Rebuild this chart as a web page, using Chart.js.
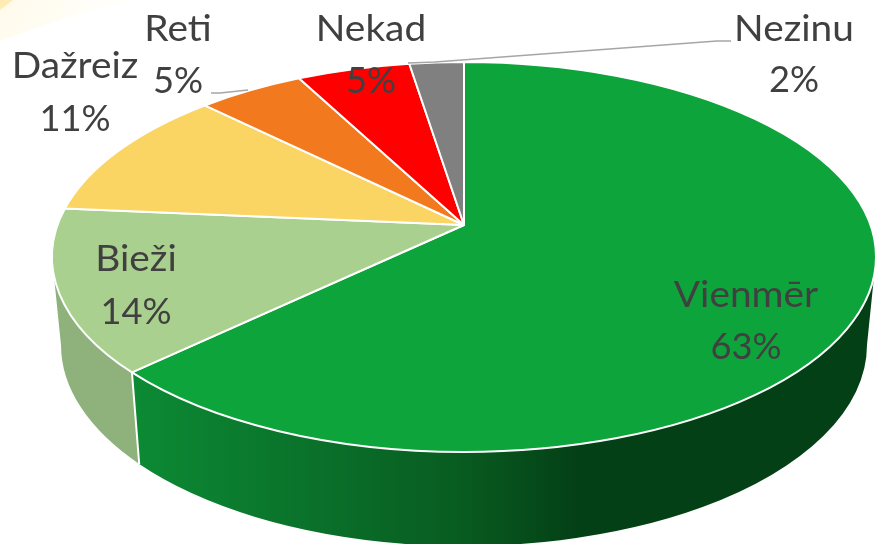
<!DOCTYPE html>
<html lang="lv">

<head>
  <meta charset="UTF-8">
  <title>Cik bieži</title>
  <style>
    html, body { margin: 0; padding: 0; background: #fff; }
    canvas { display: block; }
  </style>
</head>

<body>
  <canvas id="myChart" width="876" height="544"></canvas>

  <script src="https://cdn.jsdelivr.net/npm/chart.js"></script>
  <script>
    const categorias = ['Vienmēr', 'Bieži', 'Dažreiz', 'Reti', 'Nekad', 'Nezinu'];
    const valores = [62.9, 13.5, 11, 4.9, 5.2, 2.5];
    const rotulosPct = ['63%', '14%', '11%', '5%', '5%', '2%'];
    const cores = ['#0EA43C', '#A9D08E', '#FBD564', '#F2791E', '#FF0000', '#808080'];

    // where each label sits: centre x, baseline of name, baseline of percent
    const posRotulos = [
      [746, 307, 359],
      [136, 271, 324],
      [75, 78, 131],
      [178, 41, 93],
      [371, 41, 93],
      [794, 41, 92]
    ];

    // the pie lies flat, seen in perspective: top rim and bottom rim ellipses
    const vertice = { x: 464, y: 225 };
    const topo = { x: 464, y: 257, rx: 412, ry: 195 };
    const base = { x: 464, y: 345, rx: 403, ry: 201 };
    const persp = 64 / 390;
    const escalaY = 189.75;
    const escalaX = 406.4;

    function projetar(angulo) {
      const u = Math.cos(angulo);
      const v = Math.sin(angulo);
      const d = 1 - persp * v;
      return { x: vertice.x + escalaX * u / d, y: vertice.y + escalaY * v / d };
    }

    function paramElipse(p) {
      return Math.atan2((p.y - topo.y) / topo.ry, (p.x - topo.x) / topo.rx);
    }

    function paredeDe(ctx, t1, t2) {
      ctx.beginPath();
      ctx.ellipse(topo.x, topo.y, topo.rx, topo.ry, 0, t1, t2);
      ctx.ellipse(base.x, base.y, base.rx, base.ry, 0, t2, t1, true);
      ctx.closePath();
    }

    const fundo = {
      id: 'fundo',
      beforeDraw(chart) {
        const ctx = chart.ctx;
        ctx.save();
        ctx.fillStyle = '#fff';
        ctx.fillRect(0, 0, chart.width, chart.height);
        const grad = ctx.createLinearGradient(0, 0, 60, 50);
        grad.addColorStop(0, '#FFFAEA');
        grad.addColorStop(1, '#FFFEF9');
        ctx.fillStyle = grad;
        ctx.beginPath();
        ctx.moveTo(0, 0);
        ctx.lineTo(130, 0);
        ctx.quadraticCurveTo(60, 18, 0, 41);
        ctx.closePath();
        ctx.fill();
        ctx.fillStyle = '#FFECB4';
        ctx.beginPath();
        ctx.moveTo(0, 0);
        ctx.lineTo(13, 0);
        ctx.lineTo(0, 10);
        ctx.closePath();
        ctx.fill();
        ctx.restore();
      }
    };

    const pizza3d = {
      id: 'pizza3d',
      beforeDatasetsDraw(chart) {
        const ctx = chart.ctx;
        const arcos = chart.getDatasetMeta(0).data;
        const separa = paramElipse(projetar(arcos[0].endAngle));

        ctx.save();

        // side wall, only the front half shows
        const gradVerde = ctx.createLinearGradient(133, 0, 600, 0);
        gradVerde.addColorStop(0, '#0C8A34');
        gradVerde.addColorStop(0.4, '#0A702A');
        gradVerde.addColorStop(0.7, '#085C20');
        gradVerde.addColorStop(0.95, '#044016');
        gradVerde.addColorStop(1, '#044016');
        ctx.fillStyle = gradVerde;
        paredeDe(ctx, 0, separa);
        ctx.fill();

        ctx.fillStyle = '#8FB17C';
        paredeDe(ctx, separa, Math.PI);
        ctx.fill();

        ctx.strokeStyle = '#fff';
        ctx.lineWidth = 2;
        ctx.beginPath();
        ctx.moveTo(topo.x + topo.rx * Math.cos(separa), topo.y + topo.ry * Math.sin(separa));
        ctx.lineTo(base.x + base.rx * Math.cos(separa), base.y + base.ry * Math.sin(separa));
        ctx.stroke();

        // top face of each slice
        arcos.forEach(arco => {
          const p1 = projetar(arco.startAngle);
          const p2 = projetar(arco.endAngle);
          let t1 = paramElipse(p1);
          let t2 = paramElipse(p2);
          if (t2 < t1) t2 += Math.PI * 2;
          ctx.beginPath();
          ctx.moveTo(vertice.x, vertice.y);
          ctx.lineTo(p1.x, p1.y);
          ctx.ellipse(topo.x, topo.y, topo.rx, topo.ry, 0, t1, t2);
          ctx.closePath();
          ctx.fillStyle = arco.options.backgroundColor;
          ctx.fill();
          ctx.strokeStyle = arco.options.borderColor;
          ctx.lineWidth = arco.options.borderWidth;
          ctx.lineJoin = 'round';
          ctx.stroke();
        });

        // leader lines
        ctx.strokeStyle = '#A6A6A6';
        ctx.lineWidth = 1.5;
        ctx.beginPath();
        ctx.moveTo(211, 93);
        ctx.lineTo(220, 93);
        ctx.lineTo(248, 90);
        ctx.moveTo(731, 41);
        ctx.lineTo(717, 41);
        ctx.lineTo(435, 62);
        ctx.lineTo(408, 63);
        ctx.stroke();

        // labels, Lato stretched a little to get the width of the original font
        ctx.fillStyle = '#404040';
        ctx.font = '37px Lato';
        ctx.textAlign = 'center';
        ctx.textBaseline = 'alphabetic';
        categorias.forEach((nome, i) => {
          const pos = posRotulos[i];
          ctx.save();
          ctx.translate(pos[0], 0);
          ctx.save();
          ctx.scale(1.05, 1);
          ctx.fillText(nome, 0, pos[1]);
          ctx.restore();
          ctx.scale(0.98, 1);
          ctx.fillText(rotulosPct[i], 0, pos[2]);
          ctx.restore();
        });

        ctx.restore();
        return false;
      }
    };

    new Chart(document.getElementById('myChart').getContext('2d'), {
      type: 'pie',
      data: {
        labels: categorias,
        datasets: [{
          data: valores,
          backgroundColor: cores,
          borderColor: '#fff',
          borderWidth: 2
        }]
      },
      options: {
        responsive: false,
        animation: false,
        plugins: {
          legend: { display: false },
          tooltip: { enabled: false }
        }
      },
      plugins: [fundo, pizza3d]
    });
  </script>
</body>

</html>
